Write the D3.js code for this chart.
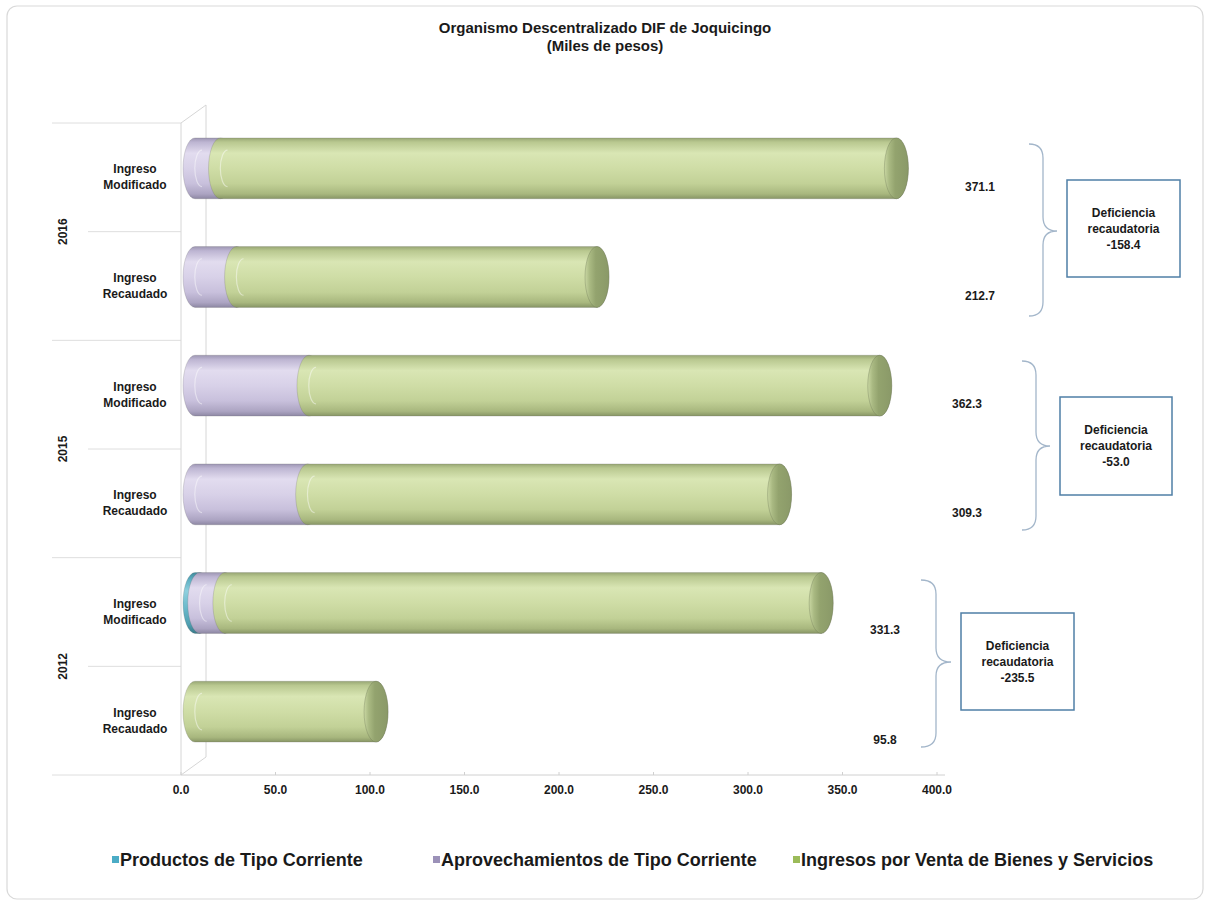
<!DOCTYPE html>
<html><head><meta charset="utf-8">
<script src="https://cdn.jsdelivr.net/npm/d3@7"></script>
<style>
body{margin:0;background:#fff;}
svg text{font-family:"Liberation Sans",Arial,sans-serif;font-weight:bold;fill:#1a1a1a;}
</style></head>
<body>
<svg id="chart" width="1207" height="905"></svg>
<script>
// ---------- data ----------
const rowYears = ["2016","2016","2015","2015","2012","2012"];
const rowLabels = [["Ingreso","Modificado"],["Ingreso","Recaudado"],["Ingreso","Modificado"],["Ingreso","Recaudado"],["Ingreso","Modificado"],["Ingreso","Recaudado"]];
const years = ["2016","2015","2012"];
const seriesNames = ["Productos de Tipo Corriente","Aprovechamientos de Tipo Corriente","Ingresos por Venta de Bienes y Servicios"];
const productos = [0, 0, 0, 0, 2.5, 0];
const aprovechamientos = [13.5, 22.0, 60.3, 59.6, 13.3, 0];
const ingresosVenta = [357.6, 190.7, 302.0, 249.7, 315.5, 95.8];
const totals = [371.1, 212.7, 362.3, 309.3, 331.3, 95.8];
const deficiencias = [-158.4, -53.0, -235.5];
const xTicks = [0, 50, 100, 150, 200, 250, 300, 350, 400];

// ---------- layout (positions only) ----------
const layout = {
  valueLabelX: [980, 980, 967, 967, 885, 885],
  valueLabelDy: [10, 10, 9, 10, 18, 19],
  braces: [ {x0:1029, x1:1043, x2:1057, y1:144, y2:316, ym:231},
            {x0:1022, x1:1036, x2:1050, y1:361, y2:530, ym:446},
            {x0:921,  x1:936,  x2:951,  y1:580, y2:747, ym:662} ],
  boxes: [ {x:1067, y:180, w:113, h:97},
           {x:1060, y:397, w:112, h:98},
           {x:961,  y:613, w:113, h:97} ],
  legendX: [112, 433, 793]
};
const fmt = v => d3.format(".1f")(v).replace("\u2212","-");

const svg = d3.select("#chart");
const defs = svg.append("defs");

// frame
svg.append("rect").attr("x",7).attr("y",6).attr("width",1196).attr("height",893)
  .attr("rx",10).attr("fill","#fff").attr("stroke","#d9d9d9").attr("stroke-width",1.2);

// title
svg.append("text").attr("x",605).attr("y",33).attr("text-anchor","middle").style("font-size","15px")
  .text("Organismo Descentralizado DIF de Joquicingo");
svg.append("text").attr("x",605).attr("y",51).attr("text-anchor","middle").style("font-size","15px")
  .text("(Miles de pesos)");

// scales
const x = d3.scaleLinear().domain([0,400]).range([181,937]);
const rows = d3.range(rowYears.length);
const y = d3.scaleBand().domain(rows).range([123,775]).paddingInner(0.44).paddingOuter(0.22);
const dx = 14, dy = -9;   // 3D depth offset of the bars
const rx = 12;

// gradients
function vgrad(id, stops){
  const g = defs.append("linearGradient").attr("id",id).attr("x1",0).attr("y1",0).attr("x2",0).attr("y2",1);
  stops.forEach(s=>g.append("stop").attr("offset",s[0]).attr("stop-color",s[1]));
}
vgrad("gTeal",[[0,"#3f8a9c"],[0.12,"#5fb0c3"],[0.3,"#8fd0de"],[0.55,"#6dbccd"],[0.85,"#4f9fb1"],[1,"#3a7b8a"]]);
vgrad("gPurple",[[0,"#9d96b3"],[0.07,"#bdb5d2"],[0.25,"#e2dcef"],[0.5,"#d8d1e8"],[0.75,"#c8c0dc"],[0.92,"#aca4c2"],[1,"#8d87a3"]]);
vgrad("gGreen",[[0,"#98a774"],[0.07,"#b9c890"],[0.25,"#d9e6b4"],[0.5,"#cfdda6"],[0.75,"#c2d197"],[0.92,"#a8b77e"],[1,"#879565"]]);
const capG = defs.append("linearGradient").attr("id","gCap").attr("x1",0).attr("y1",0).attr("x2",1).attr("y2",0);
[[0,"#c9d7a2"],[0.2,"#a9b982"],[0.45,"#93a36e"],[1,"#8a9968"]].forEach(s=>capG.append("stop").attr("offset",s[0]).attr("stop-color",s[1]));
const fills = ["url(#gTeal)","url(#gPurple)","url(#gGreen)"];
const legendColors = ["#4bacc6","#9b91b8","#9bbb59"];

// left category area gridlines
const lines = svg.append("g").attr("stroke","#dedede").attr("stroke-width",1);
const step = y.step();
const top0 = y.range()[0];
d3.range(0,7).forEach(i=>{
  const yy = top0 + i*step;
  lines.append("line").attr("x1", i%2===0 ? 52 : 88).attr("x2",181).attr("y1",yy).attr("y2",yy);
});

// walls
const wall = svg.append("g").attr("stroke","#d6d6d6").attr("fill","none").attr("stroke-width",1);
const yTop = y.range()[0], yBot = y.range()[1];
const wdx = 2*(dx-1.5), wdy = 2*dy;
wall.append("line").attr("x1",x(0)).attr("x2",x(0)).attr("y1",yTop).attr("y2",yBot);
wall.append("line").attr("x1",x(0)+wdx).attr("x2",x(0)+wdx).attr("y1",yTop+wdy).attr("y2",yBot+wdy);
wall.append("line").attr("x1",x(0)).attr("x2",x(0)+wdx).attr("y1",yTop).attr("y2",yTop+wdy);
wall.append("line").attr("x1",x(0)).attr("x2",x(0)+wdx).attr("y1",yBot).attr("y2",yBot+wdy);

// x axis
const axis = svg.append("g");
axis.append("line").attr("x1",x(0)).attr("x2",x(400)+8).attr("y1",yBot).attr("y2",yBot).attr("stroke","#d0d0d0");
axis.selectAll(".tk").data(xTicks).join("line").attr("x1",d=>x(d)).attr("x2",d=>x(d))
  .attr("y1",yBot).attr("y2",yBot-3).attr("stroke","#d0d0d0");
axis.selectAll(".tl").data(xTicks).join("text").attr("x",d=>x(d)).attr("y",yBot+19)
  .attr("text-anchor","middle").style("font-size","12px").text(d=>fmt(d));

// category labels
rows.forEach(i=>{
  const cy = y(i) + y.bandwidth()/2;
  const t = svg.append("text").attr("x",135).attr("text-anchor","middle").style("font-size","12px");
  t.append("tspan").attr("x",135).attr("y",cy-4).text(rowLabels[i][0]);
  t.append("tspan").attr("x",135).attr("y",cy+12).text(rowLabels[i][1]);
});
years.forEach((yr,gi)=>{
  const cy = top0 + step*(2*gi+1);
  svg.append("text").attr("transform",`translate(67,${cy}) rotate(-90)`).attr("text-anchor","middle")
    .style("font-size","12px").text(yr);
});

// stacked data
const table = rows.map(i=>({productos:productos[i], aprovechamientos:aprovechamientos[i], ingresosVenta:ingresosVenta[i]}));
const stack = d3.stack().keys(["productos","aprovechamientos","ingresosVenta"])(table);

// cylinders
const bars = svg.append("g");
rows.forEach(i=>{
  const cy = y(i) + y.bandwidth()/2 + dy;
  const ry = y.bandwidth()/2;
  const segs = stack.map((s,k)=>({k, v0:s[i][0], v1:s[i][1]})).filter(d=>d.v1-d.v0>0);
  segs.forEach((d,j)=>{
    const x0 = x(d.v0)+dx, x1 = x(d.v1)+dx;
    const tp = cy-ry, bt = cy+ry;
    bars.append("path")
      .attr("d",`M${x0},${tp} L${x1},${tp} A${rx},${ry} 0 0 1 ${x1},${bt} L${x0},${bt} A${rx},${ry} 0 0 1 ${x0},${tp} Z`)
      .attr("fill",fills[d.k]).attr("stroke","rgba(90,90,90,0.35)").attr("stroke-width",0.6);
    if (x1-x0>18){
      bars.append("path")
        .attr("d",`M${x0+7},${cy-ry*0.6} A${rx*0.6},${ry*0.6} 0 0 0 ${x0+7},${cy+ry*0.6}`)
        .attr("fill","none").attr("stroke","rgba(255,255,255,0.45)").attr("stroke-width",1.2);
    }
    if (j===segs.length-1){
      bars.append("ellipse").attr("cx",x1).attr("cy",cy).attr("rx",rx).attr("ry",ry)
        .attr("fill","url(#gCap)").attr("stroke","rgba(90,100,70,0.5)").attr("stroke-width",0.6);
    }
  });
});

// value labels
rows.forEach(i=>{
  const cy = y(i) + y.bandwidth()/2;
  svg.append("text").attr("x",layout.valueLabelX[i]).attr("y",cy+layout.valueLabelDy[i]+4)
    .attr("text-anchor","middle").style("font-size","12px").text(fmt(totals[i]));
});

// braces and callout boxes
layout.braces.forEach((b,gi)=>{
  const r = 14;
  svg.append("path").attr("d",
    `M${b.x0},${b.y1} Q${b.x1},${b.y1} ${b.x1},${b.y1+r} L${b.x1},${b.ym-r} Q${b.x1},${b.ym} ${b.x2},${b.ym} Q${b.x1},${b.ym} ${b.x1},${b.ym+r} L${b.x1},${b.y2-r} Q${b.x1},${b.y2} ${b.x0},${b.y2}`)
    .attr("fill","none").attr("stroke","#a3b6ca").attr("stroke-width",1.3);
  const bx = layout.boxes[gi];
  svg.append("rect").attr("x",bx.x).attr("y",bx.y).attr("width",bx.w).attr("height",bx.h)
    .attr("fill","#fff").attr("stroke","#4f7fa6").attr("stroke-width",1.5);
  const cx = bx.x + bx.w/2, cyb = bx.y + bx.h/2;
  ["Deficiencia","recaudatoria",fmt(deficiencias[gi])].forEach((t,li)=>{
    svg.append("text").attr("x",cx).attr("y",cyb-16+li*16+4).attr("text-anchor","middle")
      .style("font-size","12px").text(t);
  });
});

// legend
seriesNames.forEach((n,k)=>{
  const lx = layout.legendX[k];
  svg.append("rect").attr("x",lx).attr("y",856).attr("width",7).attr("height",7).attr("fill",legendColors[k]);
  svg.append("text").attr("x",lx+8).attr("y",866).style("font-size","18px").text(n);
});
</script>
</body></html>
